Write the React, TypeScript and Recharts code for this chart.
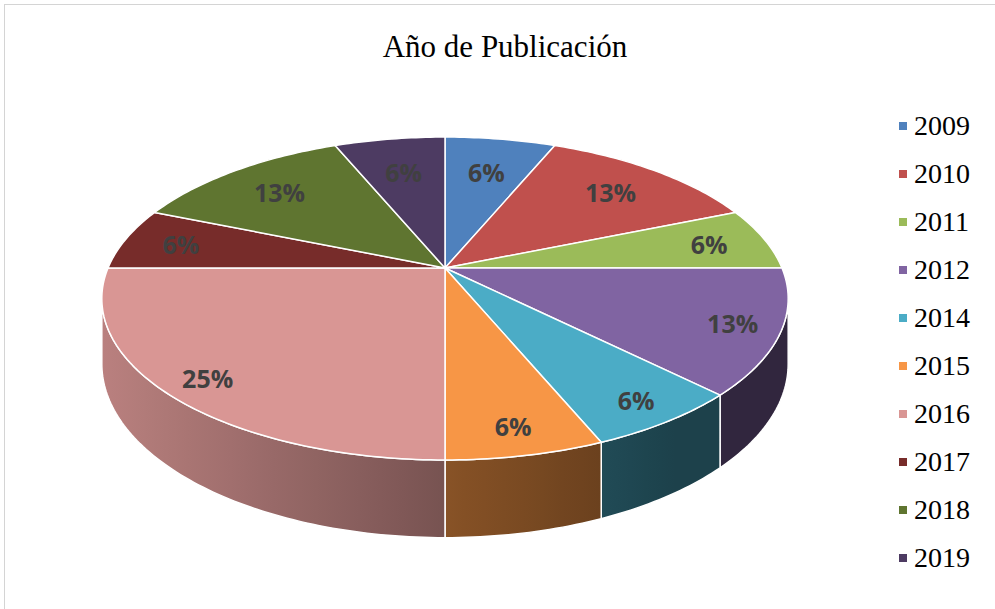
import { PieChart, Pie, Cell, Legend } from "recharts";

// publicaciones por año
const years = ["2009", "2010", "2011", "2012", "2014", "2015", "2016", "2017", "2018", "2019"];
const counts = [1, 2, 1, 2, 1, 1, 4, 1, 2, 1];
const colors = [
  "#4F81BD",
  "#C0504D",
  "#9BBB59",
  "#8064A2",
  "#4BACC6",
  "#F79646",
  "#D99694",
  "#772C2A",
  "#5F7530",
  "#4D3B62",
];

const data = years.map((y, i) => ({ name: y, value: counts[i] }));

// perspective settings for the fake 3d look
const TILT = 0.462;
const PERSP = 0.189;
const DEPTH = 0.187;

function proj(cx: number, cy: number, r: number, f: number, phi: number, h = 0) {
  const rad = (phi * Math.PI) / 180;
  const X = f * Math.sin(rad);
  const Z = -f * Math.cos(rad);
  const d = 1 - PERSP * Z;
  return [cx + (r * X) / d, cy + (r * TILT * Z + h) / d];
}

function shade(hex: string, k: number) {
  const n = parseInt(hex.slice(1), 16);
  const c = [(n >> 16) & 255, (n >> 8) & 255, n & 255].map((v) =>
    Math.max(0, Math.min(255, Math.round(v * k)))
  );
  return `rgb(${c[0]},${c[1]},${c[2]})`;
}

function wallFactor(X: number) {
  if (X < 0) return 0.55 - 0.3 * X;
  return Math.max(0.38, 0.55 - 0.25 * X);
}

const Slice3D = (props: any) => {
  const { cx, cy, outerRadius, startAngle, endAngle, fill, name } = props;
  const r = outerRadius;
  const p1 = 90 - startAngle;
  const p2 = 90 - endAngle;
  const steps = Math.max(2, Math.ceil(Math.abs(p2 - p1)));

  const top: number[][] = [[cx, cy]];
  for (let s = 0; s <= steps; s++) top.push(proj(cx, cy, r, 1, p1 + ((p2 - p1) * s) / steps));
  const topPath = "M" + top.map((p) => p.join(",")).join("L") + "Z";

  const a = Math.max(p1, 100.9);
  const b = Math.min(p2, 259.1);
  let wall = null;
  if (a < b) {
    const n = Math.max(2, Math.ceil(b - a));
    const upper: number[][] = [];
    const lower: number[][] = [];
    for (let s = 0; s <= n; s++) {
      const phi = a + ((b - a) * s) / n;
      upper.push(proj(cx, cy, r, 1, phi));
      lower.push(proj(cx, cy, r, 1, phi, r * DEPTH));
    }
    const pts = upper.concat(lower.reverse());
    const xs = pts.map((p) => p[0]);
    const x0 = Math.min(...xs);
    const x1 = Math.max(...xs);
    const id = `wall-${name}`;
    const stops = [];
    for (let s = 0; s <= 8; s++) {
      const x = x0 + ((x1 - x0) * s) / 8;
      stops.push(
        <stop key={s} offset={`${(s / 8) * 100}%`} stopColor={shade(fill, wallFactor((x - cx) / r))} />
      );
    }
    wall = (
      <g>
        <defs>
          <linearGradient id={id} gradientUnits="userSpaceOnUse" x1={x0} x2={x1} y1={0} y2={0}>
            {stops}
          </linearGradient>
        </defs>
        <path
          d={"M" + pts.map((p) => p.join(",")).join("L") + "Z"}
          fill={`url(#${id})`}
          stroke="#fff"
          strokeWidth={1.5}
          strokeLinejoin="round"
        />
      </g>
    );
  }

  return (
    <g>
      {wall}
      <path d={topPath} fill={fill} stroke="#fff" strokeWidth={1.5} strokeLinejoin="round" />
    </g>
  );
};

const renderLabel = (props: any) => {
  const { cx, cy, outerRadius, midAngle, percent } = props;
  const phi = 90 - midAngle;
  const rad = (phi * Math.PI) / 180;
  const z0 = -Math.cos(rad);
  const x0 = Math.abs(Math.sin(rad));
  const [x, y] = proj(cx, cy, outerRadius, 0.78 + 0.08 * z0 + 0.06 * x0, phi);
  return (
    <text
      x={x}
      y={y}
      textAnchor="middle"
      dominantBaseline="central"
      fill="#404040"
      fontFamily="'Open Sans', sans-serif"
      fontWeight="bold"
      fontSize={25}
    >
      {`${Math.round(percent * 100)}%`}
    </text>
  );
};

const renderLegend = (props: any) => {
  const { payload } = props;
  return (
    <ul style={{ listStyle: "none", margin: 0, padding: 0 }}>
      {(payload || []).map((entry: any, i: number) => (
        <li
          key={entry.value}
          style={{ height: 48, display: "flex", alignItems: "center", fontFamily: "'Liberation Serif', 'Times New Roman', serif", fontSize: 28, color: "#000" }}
        >
          <span style={{ width: 8, height: 8, background: colors[i], marginRight: 7, display: "inline-block" }} />
          {entry.value}
        </li>
      ))}
    </ul>
  );
};

export default function App() {
  return (
    <div style={{ position: "absolute", left: 0, top: 0, width: 995, height: 609, background: "#fff", overflow: "hidden" }}>
      <div
        style={{
          position: "absolute",
          left: 4,
          top: 4,
          width: 1200,
          height: 800,
          borderLeft: "1px solid #D4D4D4",
          borderTop: "1px solid #D4D4D4",
        }}
      />
      <div
        style={{
          position: "absolute",
          left: 0,
          width: 1010,
          top: 27,
          textAlign: "center",
          fontFamily: "'Liberation Serif', 'Times New Roman', serif",
          fontSize: 31,
          lineHeight: "40px",
          color: "#000",
        }}
      >
        Año de Publicación
      </div>
      <div style={{ position: "absolute", left: 0, top: 0 }}>
        <PieChart width={995} height={609} margin={{ top: 0, right: 0, bottom: 0, left: 0 }}>
          <Pie
            data={data}
            dataKey="value"
            nameKey="name"
            cx={445}
            cy={268}
            outerRadius={337}
            startAngle={90}
            endAngle={-270}
            isAnimationActive={false}
            shape={Slice3D}
            inactiveShape={Slice3D}
            activeShape={Slice3D}
            label={renderLabel}
            labelLine={false}
          >
            {data.map((d, i) => (
              <Cell key={d.name} fill={colors[i]} />
            ))}
          </Pie>
          <Legend
            layout="vertical"
            align="right"
            verticalAlign="top"
            content={renderLegend}
            wrapperStyle={{ position: "absolute", left: 899, top: 102, width: 90 }}
          />
        </PieChart>
      </div>
    </div>
  );
}
